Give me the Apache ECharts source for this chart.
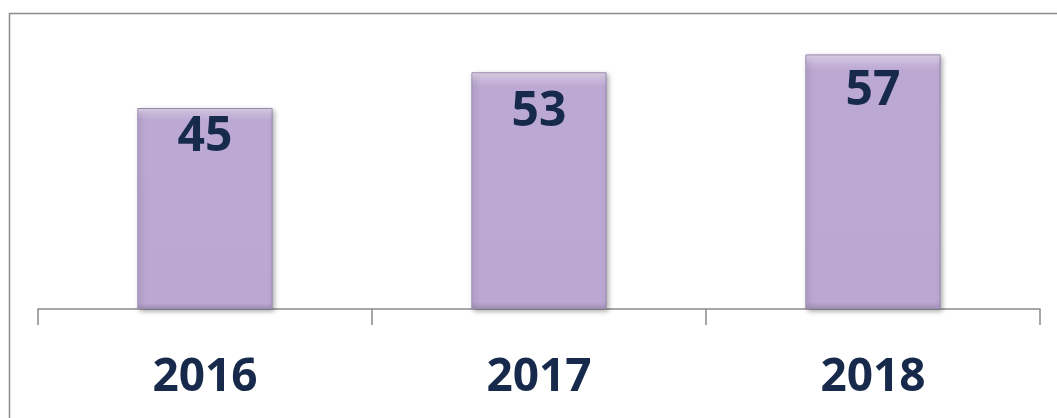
<!DOCTYPE html>
<html>
<head>
<meta charset="utf-8">
<script src="https://cdn.jsdelivr.net/npm/echarts@6/dist/echarts.min.js"></script>
<style>
  html, body { margin: 0; padding: 0; background: #fff; }
  #chart { width: 1057px; height: 418px; }
</style>
</head>
<body>
<div id="chart"></div>
<script>
// valori
const years = ['2016', '2017', '2018'];
const values = [45, 53, 57];
// spostamento verticale delle etichette dentro le barre
const labelOffsets = [3, 14, 11];

const textColor = '#172a4b';
const $chart = echarts.init(document.getElementById('chart'));

const barData = values.map((v, i) => ({
  value: v,
  label: { offset: [0, labelOffsets[i]] }
}));

const option = {
  animation: false,
  backgroundColor: '#fff',
  graphic: [{
    type: 'rect',
    shape: { x: 9.5, y: 13.5, width: 1100, height: 500 },
    style: { fill: 'none', stroke: '#8c8c8c', lineWidth: 1.5 },
    silent: true
  }],
  grid: { left: 38, right: 17, top: 41, bottom: 109 },
  xAxis: {
    type: 'category',
    data: years,
    axisLine: { lineStyle: { color: '#8a8a8a', width: 1.5 } },
    axisTick: { show: true, length: 16, lineStyle: { color: '#8a8a8a', width: 1.5 } },
    axisLabel: {
      margin: 46,
      color: textColor,
      fontFamily: 'Open Sans',
      fontWeight: 'bold',
      fontSize: 46
    }
  },
  yAxis: {
    type: 'value',
    min: 0,
    max: 60,
    show: false,
    splitLine: { show: false }
  },
  series: [{
    type: 'bar',
    data: barData,
    barWidth: '40.5%',
    itemStyle: {
      color: new echarts.graphic.LinearGradient(0, 0, 0, 1, [
        { offset: 0, color: '#e6dcef' },
        { offset: 0.035, color: '#c7b6db' },
        { offset: 0.06, color: '#bca9d3' },
        { offset: 0.97, color: '#bba8d2' },
        { offset: 1, color: '#a593bb' }
      ]),
      borderColor: '#9a88b0',
      borderWidth: 1,
      shadowBlur: 5,
      shadowColor: 'rgba(0,0,0,0.35)',
      shadowOffsetX: 2,
      shadowOffsetY: 2
    },
    label: {
      show: true,
      position: 'insideTop',
      distance: 2,
      color: textColor,
      fontFamily: 'Open Sans',
      fontWeight: 'bold',
      fontSize: 48
    }
  }]
};

$chart.setOption(option, true);
</script>
</body>
</html>
